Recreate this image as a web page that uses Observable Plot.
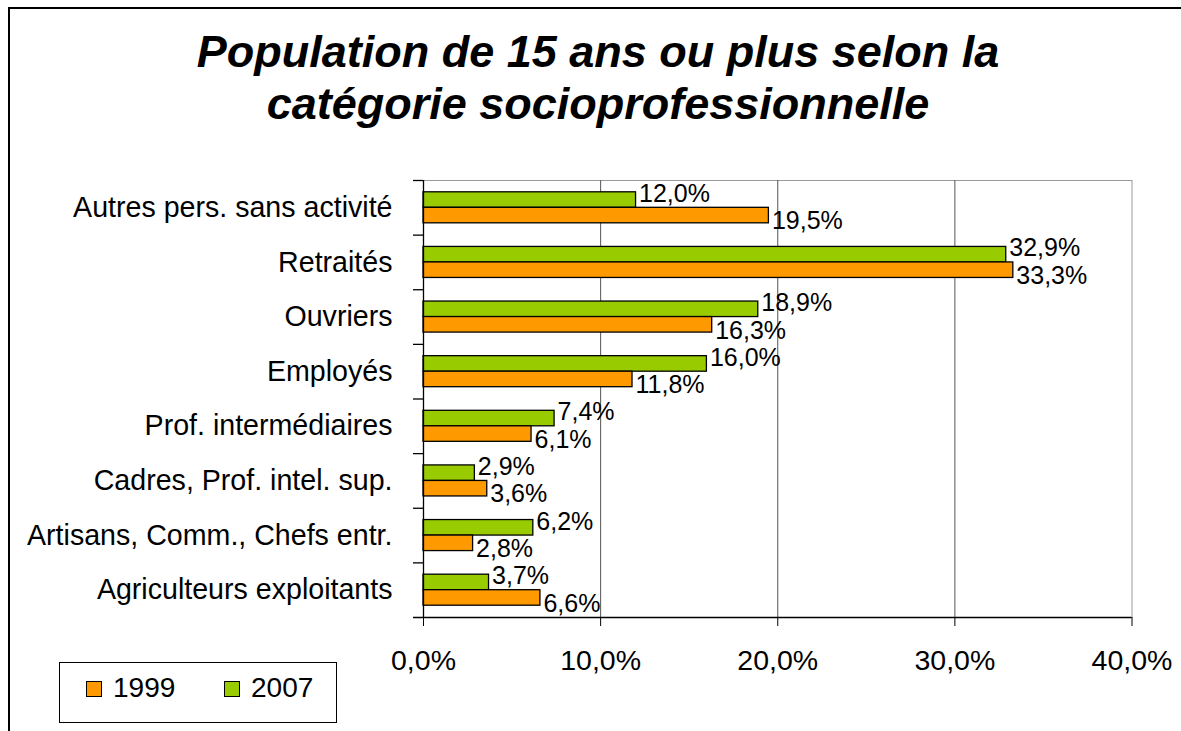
<!DOCTYPE html>
<html><head><meta charset="utf-8">
<script src="https://cdn.jsdelivr.net/npm/d3@7"></script>
<script src="https://cdn.jsdelivr.net/npm/@observablehq/plot@0.6"></script>
<style>
html,body{margin:0;padding:0;background:#fff;}
#wrap{position:relative;width:1181px;height:731px;overflow:hidden;font-family:"Liberation Sans",Arial,sans-serif;color:#000;background:#fff;}
#border{position:absolute;left:8px;top:7px;width:1400px;height:900px;border-top:2px solid #000;border-left:2px solid #000;}
#title{position:absolute;left:100px;width:996px;top:26px;text-align:center;font-size:45px;line-height:52px;font-weight:bold;font-style:italic;}
#chart{position:absolute;left:0;top:0;}
#legend{position:absolute;left:59px;top:662px;width:276px;height:59px;border:1px solid #000;background:#fff;}
.sw{position:absolute;top:18px;width:14px;height:14px;border:1px solid #000;}
.lt{position:absolute;top:11px;font-size:28px;line-height:28px;white-space:nowrap;}
</style></head>
<body>
<div id="wrap">
  <div id="border"></div>
  <div id="chart"></div>
  <div id="title">Population de 15 ans ou plus selon la<br>catégorie socioprofessionnelle</div>
  <div id="legend"></div>
</div>
<script>
const categories = ["Autres pers. sans activité","Retraités","Ouvriers","Employés","Prof. intermédiaires","Cadres, Prof. intel. sup.","Artisans, Comm., Chefs entr.","Agriculteurs exploitants"];
const v1999 = [19.5, 33.3, 16.3, 11.8, 6.1, 3.6, 2.8, 6.6];
const v2007 = [12.0, 32.9, 18.9, 16.0, 7.4, 2.9, 6.2, 3.7];
const seriesNames = ["1999", "2007"];
const seriesColors = ["#FF9900", "#99CC00"];
const xTicks = [0, 10, 20, 30, 40];

const W = 1181, H = 731, mt = 180, mb = 114, ml = 423, mr = 49.5;
const step = (H - mt - mb) / categories.length;
const padInner = 0.432;
const bw = step * (1 - padInner);
const fmt = v => v.toFixed(1).replace(".", ",") + "%";
const idx = categories.map((_, i) => i);

const chart = Plot.plot({
  width: W, height: H,
  marginTop: mt, marginBottom: mb, marginLeft: ml, marginRight: mr,
  style: {fontFamily: '"Liberation Sans", Arial, sans-serif', fontSize: "28px", background: "transparent", color: "#000", overflow: "visible"},
  x: {domain: [0, 40], label: null},
  y: {domain: categories, paddingInner: padInner, paddingOuter: padInner / 2, round: false, label: null},
  marks: [
    Plot.frame({stroke: "#999", strokeWidth: 1}),
    Plot.ruleX([10, 20, 30], {stroke: "#555", strokeWidth: 1}),
    Plot.barX(idx, {x: i => v2007[i], y: i => categories[i], fill: seriesColors[1], stroke: "#000", strokeWidth: 1.3, insetBottom: bw / 2}),
    Plot.barX(idx, {x: i => v1999[i], y: i => categories[i], fill: seriesColors[0], stroke: "#000", strokeWidth: 1.3, insetTop: bw / 2}),
    Plot.ruleX([0], {stroke: "#000", strokeWidth: 1.3}),
    Plot.ruleY(categories, {y: d => d, x1: 0, x2: 0, insetLeft: -10, dy: -step / 2, stroke: "#000", strokeWidth: 1.3}),
    Plot.ruleY([categories[categories.length - 1]], {y: d => d, x1: 0, x2: 40, insetLeft: -10, dy: step / 2, stroke: "#000", strokeWidth: 1.3}),
    Plot.axisX({ticks: xTicks, tickFormat: fmt, tickSize: 9, tickPadding: 23, fontSize: 28.5, stroke: "#000", label: null}),
    Plot.axisY({tickSize: 0, tickPadding: 31, fontSize: 28.6, label: null}),
    Plot.text(idx, {x: i => v2007[i], y: i => categories[i], text: i => fmt(v2007[i]), dx: 3, dy: -14, textAnchor: "start", fontSize: 25, fill: "#000"}),
    Plot.text(idx, {x: i => v1999[i], y: i => categories[i], text: i => fmt(v1999[i]), dx: 3, dy: 13.5, textAnchor: "start", fontSize: 25, fill: "#000"})
  ]
});
document.getElementById("chart").appendChild(chart);

const legend = document.getElementById("legend");
const swLeft = [26, 164], txtLeft = [53, 191];
seriesNames.forEach((name, k) => {
  const sw = document.createElement("div");
  sw.className = "sw"; sw.style.left = swLeft[k] + "px"; sw.style.background = seriesColors[k];
  const t = document.createElement("div");
  t.className = "lt"; t.style.left = txtLeft[k] + "px"; t.textContent = name;
  legend.appendChild(sw); legend.appendChild(t);
});
</script>
</body></html>
